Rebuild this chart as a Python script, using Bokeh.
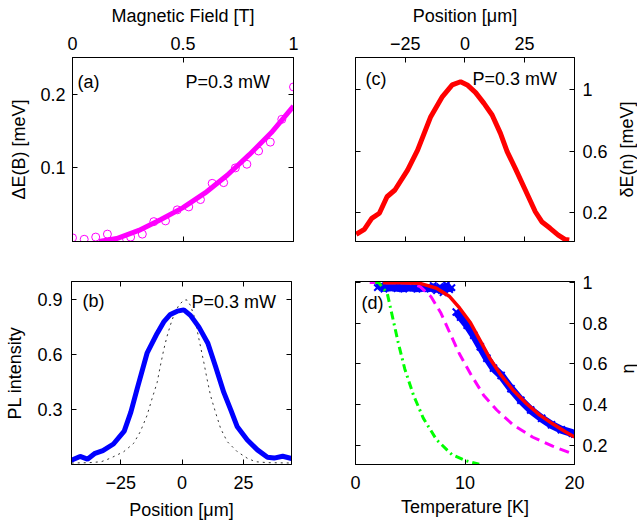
from bokeh.plotting import figure
from bokeh.layouts import column, row
from bokeh.models import LinearAxis, FixedTicker, Range1d, Label, CustomJSTickFormatter
from bokeh.embed import file_html
from bokeh.resources import INLINE
import math

FONT = "Liberation Sans"
FS = "18px"

# ---------------- data ----------------
# (a) energy shift vs magnetic field
a_field = [0.0, 0.053, 0.105, 0.158, 0.211, 0.263, 0.316, 0.368, 0.421, 0.474,
           0.526, 0.579, 0.632, 0.684, 0.737, 0.789, 0.842, 0.895, 0.947, 1.0]
a_shift = [0.005, 0.003, 0.006, 0.010, 0.001, 0.006, 0.010, 0.027, 0.028, 0.043,
           0.047, 0.057, 0.079, 0.080, 0.100, 0.105, 0.123, 0.135, 0.166, 0.210]
a_fit_field = [0.12, 0.2, 0.3, 0.4, 0.5, 0.6, 0.7, 0.8, 0.9, 1.0]
a_fit_shift = [0.0, 0.004, 0.015, 0.030, 0.046, 0.066, 0.090, 0.118, 0.148, 0.184]

# (b) PL intensity profile
b_pos = [-45.4, -41.6, -38.6, -35.5, -32.3, -28.0, -23.6, -20.9, -18.2, -14.3,
         -10.2, -7.5, -4.8, -2.0, 0.7, 3.4, 6.8, 10.5, 13.6, 17.0,
         19.8, 22.5, 26.6, 30.7, 34.8, 37.5, 41.0, 45.1]
b_pl = [0.022, 0.044, 0.029, 0.061, 0.076, 0.112, 0.182, 0.286, 0.420, 0.608,
        0.716, 0.779, 0.820, 0.838, 0.845, 0.815, 0.752, 0.663, 0.537, 0.394,
        0.300, 0.206, 0.134, 0.080, 0.040, 0.035, 0.045, 0.031]
b_spot_pos = [-45, -38, -33, -29.3, -23.8, -19.8, -17.1, -14.3, -12.3, -10.2,
              -8.9, -7.5, -6.2, -4.8, -3.4, -1.4, 0.7, 2.0, 3.4, 4.8,
              6.1, 7.5, 8.9, 10.2, 11.6, 13.6, 15.7, 18.4, 22.5, 26.6,
              30, 35, 45]
b_spot = [0.008, 0.010, 0.015, 0.034, 0.070, 0.115, 0.178, 0.268, 0.358, 0.447,
          0.537, 0.627, 0.698, 0.761, 0.815, 0.869, 0.899, 0.899, 0.869, 0.815,
          0.734, 0.645, 0.555, 0.465, 0.376, 0.286, 0.197, 0.125, 0.070, 0.034,
          0.015, 0.010, 0.008]

# (c) energy shift profile
c_pos = [-45.5, -42.1, -39.0, -35.8, -32.6, -29.3, -24.0, -19.8, -14.3, -9.4,
         -5.3, -1.8, 1.0, 4.5, 8.0, 11.4, 14.9, 17.7, 21.1, 25.3,
         29.5, 32.2, 35.7, 39.1, 41.9, 43.7]
c_shift = [0.057, 0.089, 0.161, 0.194, 0.302, 0.346, 0.476, 0.606, 0.824, 0.955,
           1.031, 1.052, 1.031, 0.981, 0.911, 0.835, 0.715, 0.596, 0.487, 0.346,
           0.204, 0.139, 0.096, 0.052, 0.024, 0.020]

# (d) eta vs temperature
d_data1_T = [2.0, 2.3, 2.6, 2.9, 3.2, 3.5, 3.8, 4.1, 4.4, 4.7, 5.0, 5.3,
             5.6, 5.9, 6.2, 6.5, 6.8, 7.1, 7.4, 7.7, 8.0, 8.3, 8.6, 8.8]
d_data1 = [0.975, 0.985, 0.968, 0.978, 0.972, 0.980, 0.970, 0.976, 0.968, 0.978, 0.972, 0.975,
           0.967, 0.978, 0.970, 0.975, 0.968, 0.985, 0.960, 0.980, 0.950, 0.990, 0.965, 0.975]
d_data2_T = [9.2, 9.6, 10.2, 10.8, 11.4, 12.0, 12.6, 13.3, 14.2, 15.1, 16.0, 17.0,
             17.9, 18.8, 19.8, 20.0]
d_data2 = [0.855, 0.830, 0.790, 0.741, 0.684, 0.628, 0.579, 0.543, 0.478, 0.421, 0.373, 0.332,
           0.300, 0.276, 0.259, 0.255]
d_fit_T = [2.5, 4.0, 5.9, 7.4, 8.6, 9.5, 10.5, 11.4, 12.3, 13.2, 14.4, 15.6, 16.8, 18.0, 19.2, 20.0]
d_fit = [0.999, 0.999, 0.996, 0.972, 0.931, 0.875, 0.802, 0.713, 0.624, 0.551, 0.470, 0.405,
         0.349, 0.305, 0.265, 0.240]
d_mag_T = [1.3, 4.9, 5.9, 6.9, 7.8, 8.6, 9.5, 10.5, 11.7, 12.9, 14.4, 16.2, 18.0, 20.0]
d_mag = [1.0, 0.998, 0.980, 0.930, 0.850, 0.754, 0.648, 0.551, 0.446, 0.373, 0.300, 0.239, 0.195, 0.154]
d_grn_T = [1.8, 2.1, 2.9, 3.3, 3.9, 4.5, 5.3, 6.2, 7.4, 8.8, 10.0, 11.3]
d_grn = [1.0, 1.0, 0.947, 0.850, 0.705, 0.575, 0.445, 0.332, 0.227, 0.154, 0.125, 0.106]

# tick values
a_xticks = [0, 0.5, 1]
a_yticks = [0.1, 0.2]
pos_ticks = [-25, 0, 25]
b_yticks = [0.3, 0.6, 0.9]
c_yticks = [0.2, 0.6, 1]
d_xticks = [0, 10, 20]
d_yticks = [0.2, 0.4, 0.6, 0.8, 1]

FMT = "return tick < 0 ? '\\u2212' + String(-tick) : String(tick);"


def make_fig(w, h, xr, yr, bl, br, bt, bb):
    p = figure(width=w, height=h, x_range=Range1d(*xr), y_range=Range1d(*yr),
               x_axis_type=None, y_axis_type=None,
               toolbar_location=None, output_backend="svg",
               min_border_left=bl, min_border_right=br,
               min_border_top=bt, min_border_bottom=bb)
    p.outline_line_color = "black"
    p.outline_line_width = 1
    p.background_fill_color = "white"
    p.border_fill_color = "white"
    return p


def add_axis(p, side, ticks, show, label="", ls=7, als=8):
    ax = LinearAxis(ticker=FixedTicker(ticks=ticks))
    ax.major_tick_in = 5
    ax.major_tick_out = 0
    ax.minor_tick_in = 0
    ax.minor_tick_out = 0
    ax.minor_tick_line_color = None
    ax.axis_line_color = "black"
    ax.major_tick_line_color = "black"
    if show:
        ax.formatter = CustomJSTickFormatter(code=FMT)
        ax.major_label_text_font = FONT
        ax.major_label_text_font_size = FS
        ax.major_label_text_color = "black"
        ax.major_label_standoff = ls
        if label:
            ax.axis_label = label
            ax.axis_label_text_font = FONT
            ax.axis_label_text_font_size = FS
            ax.axis_label_text_font_style = "normal"
            ax.axis_label_text_color = "black"
            ax.axis_label_standoff = als
    else:
        ax.major_label_text_font_size = "0px"
        ax.major_label_standoff = 0
        ax.major_label_text_color = None
    p.add_layout(ax, side)


def add_text(p, x, y, text, angle=0.0, align="left", baseline="alphabetic"):
    p.add_layout(Label(x=x, y=y, x_units="screen", y_units="screen", text=text,
                       angle=angle, text_align=align, text_baseline=baseline,
                       text_font=FONT, text_font_size=FS, text_color="black"))


def blank_fig(w, h, bl=0, br=0, bt=0, bb=0):
    p = figure(width=w, height=h, x_range=Range1d(0, 1), y_range=Range1d(0, 1),
               x_axis_type=None, y_axis_type=None, toolbar_location=None,
               output_backend="svg", min_border=0, min_border_left=bl,
               min_border_right=br, min_border_top=bt, min_border_bottom=bb)
    p.outline_line_color = None
    p.background_fill_color = "white"
    p.border_fill_color = "white"
    return p


def side_label(p, text):
    ax = LinearAxis(ticker=FixedTicker(ticks=[]))
    ax.axis_line_color = None
    ax.major_tick_line_color = None
    ax.minor_tick_line_color = None
    ax.major_tick_in = 0
    ax.major_tick_out = 0
    ax.minor_tick_in = 0
    ax.minor_tick_out = 0
    ax.major_label_text_font_size = "0px"
    ax.major_label_standoff = 0
    ax.axis_label = text
    ax.axis_label_text_font = FONT
    ax.axis_label_text_font_size = FS
    ax.axis_label_text_font_style = "normal"
    ax.axis_label_text_color = "black"
    ax.axis_label_standoff = 0
    p.add_layout(ax, "left")


# ---------------- (a) ----------------
pa = make_fig(320, 258, (0, 1), (0, 0.25), 72, 27, 57, 16)
add_axis(pa, "above", a_xticks, True, "Magnetic Field [T]", ls=8, als=8)
add_axis(pa, "below", a_xticks, False)
add_axis(pa, "left", a_yticks, True, "\u0394E(B) [meV]", ls=7, als=8)
add_axis(pa, "right", a_yticks, False)
pa.line(a_fit_field, a_fit_shift, line_color="#ff00ff", line_width=5)
pa.scatter(a_field, a_shift, marker="circle", size=8, fill_color=None,
           line_color="#ff00ff", line_width=1)
add_text(pa, 5, 160, "(a)")
add_text(pa, 113, 160, "P=0.3 mW")

# ---------------- (c) ----------------
pc = make_fig(290, 258, (-45.8, 45.9), (0.01, 1.21), 35, 35, 57, 17)
add_axis(pc, "above", pos_ticks, True, "Position [\u03bcm]", ls=8, als=8)
add_axis(pc, "below", pos_ticks, False)
add_axis(pc, "left", c_yticks, False)
add_axis(pc, "right", c_yticks, True, ls=8)
pc.line(c_pos, c_shift, line_color="#ff0000", line_width=5)
add_text(pc, 10, 163, "(c)")
add_text(pc, 117, 163, "P=0.3 mW")
lc = blank_fig(27, 258, bl=26, br=0, bt=57, bb=17)
side_label(lc, "\u03b4E(n) [meV]")

# ---------------- (b) ----------------
pb = make_fig(320, 264, (-45.1, 44.6), (0, 1), 71, 29, 23, 55)
add_axis(pb, "below", pos_ticks, True, "Position [\u03bcm]", ls=11, als=8)
add_axis(pb, "above", pos_ticks, False)
add_axis(pb, "left", b_yticks, True, "PL intensity", ls=9, als=9)
add_axis(pb, "right", b_yticks, False)
pb.line(b_spot_pos, b_spot, line_color="#333333", line_width=1, line_dash="2 4")
pb.line(b_pos, b_pl, line_color="#0000ff", line_width=5)
add_text(pb, 11, 164, "(b)")
add_text(pb, 120, 163, "P=0.3 mW")

# ---------------- (d) ----------------
pd_ = make_fig(290, 264, (0, 20), (0.105, 1.005), 35, 35, 23, 55)
add_axis(pd_, "below", d_xticks, True, "Temperature [K]", ls=11, als=5)
add_axis(pd_, "above", d_xticks, False)
add_axis(pd_, "left", d_yticks, False)
add_axis(pd_, "right", d_yticks, True, ls=8)
pd_.line(d_data1_T, d_data1, line_color="#0000ff", line_width=7)
pd_.scatter(d_data1_T, d_data1, marker="x", size=9, line_color="#0000ff", line_width=2)
pd_.line(d_data2_T, d_data2, line_color="#0000ff", line_width=8)
pd_.scatter(d_data2_T, d_data2, marker="x", size=10, line_color="#0000ff", line_width=2)
pd_.line(d_mag_T, d_mag, line_color="#ff00ff", line_width=3, line_dash="10 6")
pd_.line(d_grn_T, d_grn, line_color="#00ff00", line_width=3, line_dash="8 4 2 4")
pd_.line(d_fit_T, d_fit, line_color="#ff0000", line_width=3.5)
add_text(pd_, 6, 162, "(d)")
ld = blank_fig(27, 264)
add_text(ld, 17, 96, "\u03b7", angle=math.pi / 2, align="center", baseline="middle")

layout = column(row(pa, pc, lc), row(pb, pd_, ld))

with open("out.html", "w") as f:
    f.write(file_html(layout, INLINE))
